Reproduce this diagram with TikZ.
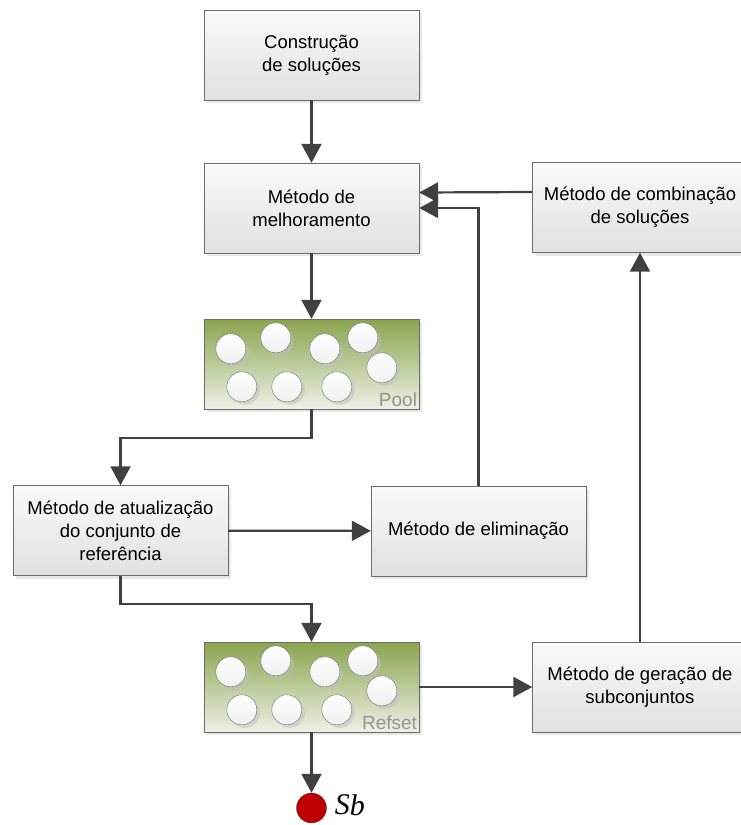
\documentclass[tikz,border=0pt]{standalone}
\usepackage{fontspec}
\setmainfont{Liberation Sans}
\newfontfamily\sbfont{Liberation Serif}
\usetikzlibrary{positioning,shadows,arrows.meta}
\def\solPositions{27/30, 72/19, 121/30, 159/19, 178/49, 38/68, 83/68, 133/68}
\colorlet{box edge}{black!58}
\colorlet{flow line}{black!75}
\definecolor{set top}{RGB}{138,164,78}
\definecolor{set bottom}{RGB}{238,241,230}
\definecolor{best sol}{RGB}{192,0,0}
\tikzset{block/.style={draw=box edge, top color=black!2, bottom color=black!12,
        minimum width=215pt, minimum height=90pt, align=center,
        font=\fontsize{18.5}{23}\selectfont,
        drop shadow={shadow xshift=3pt, shadow yshift=-3pt, fill=black!18}},
    setbox/.style={block, top color=set top, bottom color=set bottom},
    setlabel/.style={text=black!42, font=\fontsize{19}{20}\selectfont, inner sep=2pt},
    sol/.style={circle, draw=black!55, top color=white, bottom color=black!6,
        minimum size=30pt, inner sep=0pt,
        drop shadow={shadow xshift=3pt, shadow yshift=-3pt, fill=black!25}},
    flow/.style={draw=flow line, line width=2.2pt, -{Triangle[length=19pt, width=20pt]}}}

\begin{document}
\begin{tikzpicture}[x=1pt, y=-1pt]
    \useasboundingbox (0,0) rectangle (741,825);
    \node[block] (constr) at (311.5,55) {Construção\\de soluções};
    \node[block] (melh) at (311.5,208) {Método de\\melhoramento};
    \node[block] (comb) at (640,207.5) {Método de combinação\\de soluções};
    \node[setbox] (pool) at (311.5,364) {};
    \node[block] (atual) at (120.5,530.5) {Método de atualização\\do conjunto de\\referência};
    \node[block] (elim) at (478.5,531) {Método de eliminação};
    \node[setbox] (refset) at (311.5,687) {};
    \node[block] (ger) at (640,687) {Método de geração de\\subconjuntos};
    \node[circle, draw=black!70, fill=best sol, minimum size=30pt, inner sep=0pt] (sb) at (311.5,808) {};
    \node[anchor=base west, inner sep=0pt, font=\sbfont\fontsize{30}{30}\selectfont\itshape]
        (sb-label) at ([xshift=8pt, yshift=-6pt]sb.east) {S\raisebox{-1pt}{b}};
    \foreach \cx/\cy [count=\i] in \solPositions {
        \node[sol] (pool-\i) at ([shift={(\cx,\cy)}]pool.north west) {};
        \node[sol] (refset-\i) at ([shift={(\cx,\cy)}]refset.north west) {};
    }
    \node[setlabel, anchor=south east] (pool-label) at (pool.south east) {Pool};
    \node[setlabel, anchor=south east] (refset-label) at (refset.south east) {Refset};
    \draw[flow] (constr) -- (melh);
    \draw[flow] ([yshift=15.5pt]comb.west) -- ([yshift=15.5pt]melh.east);
    \draw[flow] (elim.north) |- (melh.east);
    \draw[flow] (melh) -- (pool);
    \draw[flow] (pool.south) -- ++(0,29) -| (atual.north);
    \draw[flow] (atual) -- (elim);
    \draw[flow] (atual.south) -- ++(0,28) -| (refset.north);
    \draw[flow] (refset) -- (ger);
    \draw[flow] (ger) -- (comb);
    \draw[flow] (refset) -- (sb);
\end{tikzpicture}
\end{document}
